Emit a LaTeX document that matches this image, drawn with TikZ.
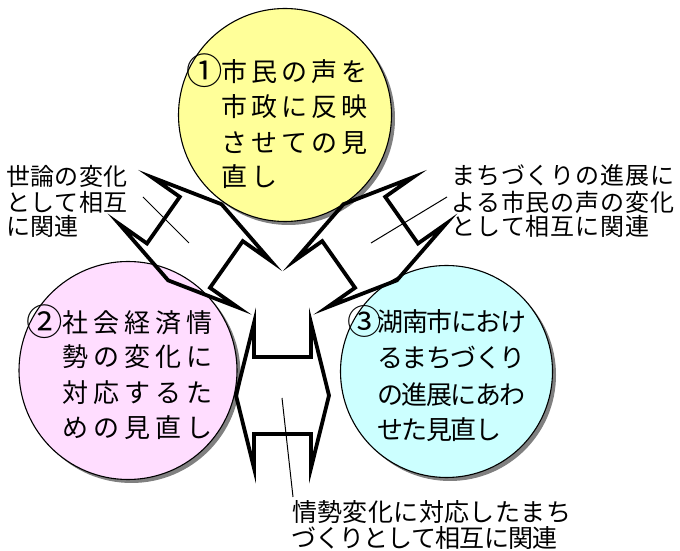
\documentclass[tikz,border=0pt]{standalone}
\usepackage{fontspec}
\usepackage{graphicx}
\newfontfamily\jp{Noto Sans CJK JP}
\usetikzlibrary{shadows}
\definecolor{cyel}{HTML}{FFFF99}
\definecolor{cpink}{HTML}{FFDDFF}
\definecolor{ccyan}{HTML}{CCFFFF}
\newcommand\spaceout[2]{\def\spcpitch{#1}\spcloop#2\relax}
\def\spcloop#1{\ifx#1\relax\else\makebox[\spcpitch][l]{#1}\expandafter\spcloop\fi}
\newcommand\bignum[3]{\makebox[#1][l]{\makebox[24pt][c]{\raisebox{-3pt}{\scalebox{#2}{#3}}}}}
\tikzset{
  arm/.style={draw=black, line width=3.8pt, line join=miter, miter limit=20},
  bubble/.style={circle, draw=black, line width=1.1pt, inner sep=0pt,
    drop shadow={shadow xshift=3.5pt, shadow yshift=-3.5pt, fill=black!50, opacity=1}},
  ctext/.style={anchor=base west, inner sep=0pt, font=\jp\fontsize{26}{30}\selectfont},
  ltext/.style={anchor=base west, inner sep=0pt, font=\jp\fontsize{24}{28}\selectfont},
  ptr/.style={draw=black, line width=1pt},
  armshape/.pic={
    \draw[arm] (0,28.5) -- (72.5,46.5) -- (145,28.5) -- (111,28.5) -- (111,-28.5)
      -- (145,-28.5) -- (72.5,-46.5) -- (0,-28.5) -- (34,-28.5) -- (34,28.5) -- cycle;
  }
}
\begin{document}
\begin{tikzpicture}[x=1pt,y=1pt]
\fill[white] (0,0) rectangle (680,551);
\useasboundingbox (0,0) rectangle (680,551);
% circles
\node[bubble, fill=cyel, minimum size=213pt] (c1) at (285,436) {};
\node[bubble, fill=cpink, minimum size=218pt] (c2) at (128,180.5) {};
\node[bubble, fill=ccyan, minimum size=212pt] (c3) at (446.5,179.5) {};
% arms
\pic[rotate=270] (armB) at (282.5,228) {armshape};
\pic[rotate=144.9] (armL) at (254.2,267) {armshape};
\pic[rotate=35.1] (armR) at (310.8,267) {armshape};
% pointer lines
\coordinate (pLa) at (143,354); \coordinate (pLb) at (189,308);
\coordinate (pRa) at (447,354); \coordinate (pRb) at (371,308);
\coordinate (pBa) at (282,153); \coordinate (pBb) at (293,54);
\draw[ptr] (pLa) -- (pLb);
\draw[ptr] (pRa) -- (pRb);
\draw[ptr] (pBa) -- (pBb);
% circle texts
\node[ctext] (y1) at (192,469.1) {\bignum{29pt}{1.4}{①}\spaceout{30pt}{市民の声を}};
\node[ctext] (y2) at (221,434.1) {\spaceout{30pt}{市政に反映}};
\node[ctext] (y3) at (221,398.1) {\spaceout{30pt}{させての見}};
\node[ctext] (y4) at (221,364.1) {\spaceout{30pt}{直し}};
\node[ctext] (k1) at (32,218.1) {\bignum{30pt}{1.4}{②}\spaceout{31pt}{社会経済情}};
\node[ctext] (k2) at (62,184.1) {\spaceout{31pt}{勢の変化に}};
\node[ctext] (k3) at (62,148.1) {\spaceout{31pt}{対応するた}};
\node[ctext] (k4) at (62,113.1) {\spaceout{31pt}{めの見直し}};
\node[ctext] (s1) at (352,219.1) {\bignum{25.5pt}{1.32}{③}\spaceout{24.5pt}{湖南市におけ}};
\node[ctext] (s2) at (377,183.1) {\spaceout{24.5pt}{るまちづくり}};
\node[ctext] (s3) at (377,146.1) {\spaceout{24.5pt}{の進展にあわ}};
\node[ctext] (s4) at (377,111.1) {\spaceout{24.5pt}{せた見直し}};
% labels
\node[ltext] (a1) at (6,365.9) {\spaceout{24.3pt}{世論の変化}};
\node[ltext] (a2) at (6,339.9) {\spaceout{24.3pt}{として相互}};
\node[ltext] (a3) at (6,315.9) {\spaceout{24.3pt}{に関連}};
\node[ltext] (b1) at (451,366.9) {\spaceout{24.9pt}{まちづくりの進展に}};
\node[ltext] (b2) at (451,339.9) {\spaceout{24.9pt}{よる市民の声の変化}};
\node[ltext] (b3) at (451,315.9) {\spaceout{24.9pt}{として相互に関連}};
\node[ltext, font=\jp\fontsize{25}{29}\selectfont] (d1) at (292,29.5) {\spaceout{25.4pt}{情勢変化に対応したまち}};
\node[ltext, font=\jp\fontsize{25}{29}\selectfont] (d2) at (291,3.5) {\spaceout{24.1pt}{づくりとして相互に関連}};
\end{tikzpicture}
\end{document}
